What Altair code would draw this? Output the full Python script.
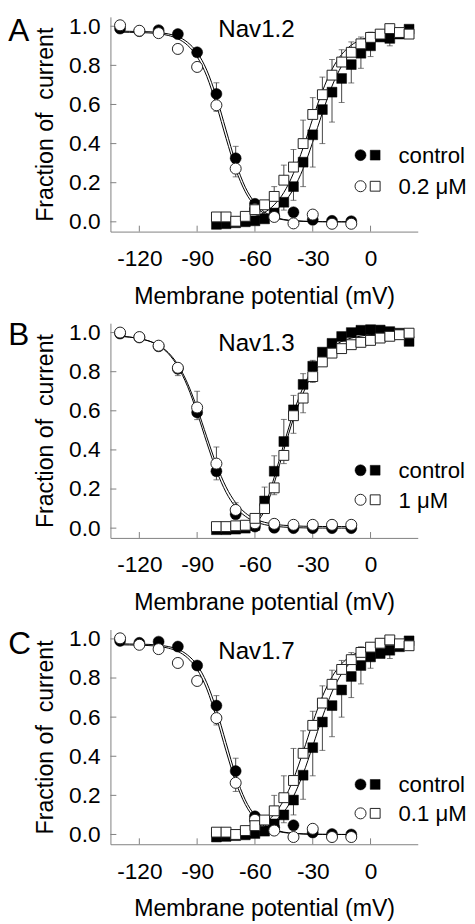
import altair as alt
import pandas as pd

FONT = "Liberation Sans"

# ---------------- shared axis values ----------------
V_INACT = [-130, -120, -110, -100, -90, -80, -70, -60, -50, -40, -30, -20, -10]
V_ACT = [-80, -75, -70, -65, -60, -55, -50, -45, -40, -35, -30, -25, -20, -15,
         -10, -5, 0, 5, 10, 15, 20]
V_FIT_INACT = [-130, -125, -120, -115, -110, -105, -100, -95, -90, -85, -80, -75,
               -70, -65, -60, -55, -50, -45, -40, -35, -30, -25, -20, -15, -10]
V_FIT_ACT = V_ACT
X_TICKS = [-120, -90, -60, -30, 0]
Y_TICKS = [0.0, 0.2, 0.4, 0.6, 0.8, 1.0]
N = None

# ---------------- Panel A : Nav1.2 ----------------
A_LETTER, A_TITLE, A_DRUG = "A", "Nav1.2", "0.2 \u03bcM"
A_INACT_CTRL = [0.988, 0.975, 0.98, 0.96, 0.867, 0.654, 0.325, 0.092, 0.03, 0.049, 0.01, 0.005, 0.003]
A_INACT_DRUG = [1.005, 0.977, 0.965, 0.884, 0.792, 0.596, 0.272, 0.065, 0.025, -0.008, 0.037, -0.01, -0.01]
A_ACT_CTRL = [-0.013, -0.01, -0.005, 0.0, 0.005, 0.015, 0.045, 0.1, 0.18, 0.305, 0.445, 0.574,
              0.663, 0.733, 0.804, 0.862, 0.9, 0.945, 0.938, 0.96, 0.985]
A_ACT_DRUG = [0.025, 0.025, 0.003, 0.028, 0.062, 0.087, 0.13, 0.213, 0.28, 0.4, 0.549, 0.65,
              0.75, 0.817, 0.867, 0.91, 0.943, 0.96, 0.988, 0.968, 0.96]
A_INACT_CTRL_ERR = [N, N, N, N, N, 0.711, 0.386, N, N, N, N, N, N]
A_INACT_DRUG_ERR = [N, N, N, N, N, 0.565, 0.23, N, N, N, N, N, N]
A_ACT_CTRL_ERR = [N, N, N, N, N, N, N, 0.06, 0.11, 0.18, 0.28, 0.40, 0.51, 0.61, 0.71, 0.785,
                  0.845, N, 0.9, N, N]
A_ACT_DRUG_ERR = [N, N, N, N, N, N, 0.18, 0.29, 0.37, 0.52, 0.635, 0.74, 0.83, 0.88, 0.92,
                  0.945, 0.97, 0.98, N, N, N]
A_FIT_INACT_CTRL = [0.975, 0.974, 0.973, 0.972, 0.968, 0.961, 0.947, 0.918, 0.866, 0.776, 0.639,
                    0.47, 0.304, 0.177, 0.097, 0.05, 0.025, 0.012, 0.006, 0.003, 0.0015, 0.0007,
                    0.0003, 0.0001, 0.0]
A_FIT_INACT_DRUG = [0.97, 0.969, 0.968, 0.966, 0.962, 0.953, 0.936, 0.903, 0.844, 0.744, 0.597,
                    0.427, 0.269, 0.153, 0.081, 0.042, 0.021, 0.01, 0.005, 0.0025, 0.0012, 0.0006,
                    0.0003, 0.0001, 0.0]
A_FIT_ACT_CTRL = [0.0014, 0.0026, 0.0049, 0.0088, 0.0164, 0.03, 0.055, 0.097, 0.168, 0.271, 0.408,
                  0.557, 0.694, 0.797, 0.868, 0.91, 0.935, 0.949, 0.956, 0.96, 0.962]
A_FIT_ACT_DRUG = [0.0023, 0.0043, 0.0078, 0.0144, 0.027, 0.048, 0.087, 0.15, 0.248, 0.378, 0.528,
                  0.668, 0.78, 0.856, 0.903, 0.931, 0.947, 0.955, 0.96, 0.962, 0.963]

# ---------------- Panel B : Nav1.3 ----------------
B_LETTER, B_TITLE, B_DRUG = "B", "Nav1.3", "1 \u03bcM"
B_INACT_CTRL = [0.995, 0.975, 0.93, 0.815, 0.592, 0.291, 0.071, 0.008, 0.002, 0.0, 0.0, 0.0, 0.0]
B_INACT_DRUG = [1.0, 0.977, 0.933, 0.82, 0.617, 0.33, 0.093, 0.025, 0.022, 0.017, 0.017, 0.017, 0.017]
B_ACT_CTRL = [-0.008, -0.008, -0.005, 0.0, 0.014, 0.139, 0.291, 0.443, 0.605, 0.735, 0.828, 0.9,
              0.945, 0.98, 1.0, 1.012, 1.015, 1.013, 1.005, 0.997, 0.955]
B_ACT_DRUG = [0.008, 0.008, 0.012, 0.015, 0.05, 0.1, 0.206, 0.372, 0.575, 0.665, 0.775, 0.85,
              0.895, 0.918, 0.938, 0.95, 0.96, 0.972, 0.981, 0.989, 0.997]
B_INACT_CTRL_ERR = [N, N, N, N, 0.555, 0.247, N, N, N, N, N, N, N]
B_INACT_DRUG_ERR = [N, N, N, 0.78, 0.70, 0.415, 0.13, N, N, N, N, N, N]
B_ACT_CTRL_ERR = [N, N, N, N, N, 0.21, 0.37, 0.556, 0.679, 0.79, 0.858, N, N, N, N, N, N, N, N, N, N]
B_ACT_DRUG_ERR = [N, N, N, N, N, N, 0.171, 0.33, 0.485, 0.59, 0.745, N, N, N, N, N, N, N, N, N, N]
B_FIT_INACT_CTRL = [0.981, 0.977, 0.969, 0.957, 0.934, 0.893, 0.826, 0.725, 0.59, 0.437, 0.295,
                    0.183, 0.107, 0.061, 0.0335, 0.018, 0.0098, 0.0053, 0.0029, 0.0015, 0.0008,
                    0.0004, 0.0002, 0.0001, 0.0]
B_FIT_INACT_DRUG = [0.981, 0.977, 0.969, 0.957, 0.935, 0.898, 0.836, 0.741, 0.614, 0.467, 0.326,
                    0.211, 0.13, 0.078, 0.047, 0.03, 0.02, 0.0146, 0.0116, 0.0099, 0.009, 0.0085,
                    0.0082, 0.0081, 0.008]
B_FIT_ACT_CTRL = [-0.01, -0.008, -0.004, 0.005, 0.03, 0.11, 0.26, 0.43, 0.59, 0.72, 0.815, 0.88,
                  0.925, 0.955, 0.972, 0.982, 0.99, 0.994, 0.996, 0.997, 0.998]
B_FIT_ACT_DRUG = [-0.005, -0.003, 0.0, 0.008, 0.025, 0.09, 0.23, 0.4, 0.56, 0.69, 0.79, 0.855,
                  0.9, 0.93, 0.95, 0.96, 0.968, 0.972, 0.975, 0.977, 0.978]

# ---------------- Panel C : Nav1.7 ----------------
C_LETTER, C_TITLE, C_DRUG = "C", "Nav1.7", "0.1 \u03bcM"
C_INACT_CTRL = [0.99, 0.98, 0.986, 0.961, 0.864, 0.659, 0.324, 0.093, 0.035, 0.047, 0.01, 0.002, 0.0]
C_INACT_DRUG = [1.003, 0.97, 0.948, 0.877, 0.785, 0.595, 0.264, 0.075, 0.02, -0.013, 0.029, -0.013, -0.013]
C_ACT_CTRL = [-0.013, -0.01, -0.006, -0.002, 0.005, 0.017, 0.054, 0.1, 0.176, 0.303, 0.444, 0.575,
              0.659, 0.739, 0.808, 0.864, 0.908, 0.925, 0.942, 0.96, 0.99]
C_ACT_DRUG = [0.012, 0.012, 0.0, 0.02, 0.045, 0.074, 0.121, 0.188, 0.276, 0.415, 0.558, 0.672,
              0.768, 0.844, 0.894, 0.931, 0.958, 0.978, 0.995, 0.975, 0.965]
C_INACT_CTRL_ERR = [N, N, N, N, N, 0.71, 0.39, N, N, N, N, N, N]
C_INACT_DRUG_ERR = [N, N, N, N, N, 0.56, 0.22, N, N, N, N, N, N]
C_ACT_CTRL_ERR = [N, N, N, N, N, N, N, 0.06, 0.1, 0.18, 0.3, 0.43, 0.5, 0.6, 0.7, 0.77, 0.85,
                  N, 0.9, N, N]
C_ACT_DRUG_ERR = [N, N, N, N, N, N, 0.2, 0.3, 0.44, 0.53, 0.63, 0.76, 0.84, 0.89, 0.93, 0.96,
                  0.98, 0.99, N, N, N]
C_FIT_INACT_CTRL = A_FIT_INACT_CTRL
C_FIT_INACT_DRUG = A_FIT_INACT_DRUG
C_FIT_ACT_CTRL = [0.0016, 0.003, 0.0057, 0.0106, 0.0196, 0.036, 0.065, 0.115, 0.195, 0.31, 0.452,
                  0.6, 0.729, 0.822, 0.883, 0.92, 0.94, 0.951, 0.958, 0.961, 0.963]
C_FIT_ACT_DRUG = [0.0027, 0.005, 0.0094, 0.0174, 0.032, 0.058, 0.103, 0.176, 0.284, 0.422, 0.572,
                  0.705, 0.806, 0.873, 0.914, 0.937, 0.95, 0.957, 0.961, 0.963, 0.964]

# ---------------- layout constants ----------------
W, H = 312, 218
XDOM = [-135, 24.5]
YDOM = [-0.05, 1.048]
LEG_CIRCLE_X, LEG_SQUARE_X, LEG_TEXT_X = -5.2, 2.4, 14.5
LETTER_PX = -103.7
Y_TITLE = "Fraction of\u00a0 current"

x_axis = alt.Axis(values=X_TICKS, title="Membrane potential (mV)", grid=False, ticks=True,
                  tickSize=0, labelPadding=16.5, titlePadding=14, domainColor="#808080",
                  labelExpr="replace(datum.label, '\u2212', '-')",
                  labelFont=FONT, labelFontSize=23, labelColor="black", labelFlush=False,
                  titleFont=FONT, titleFontSize=23.5, titleFontWeight="normal", titleColor="black")
y_axis = alt.Axis(values=Y_TICKS, format=".1f", title=Y_TITLE, grid=False,
                  ticks=True, tickSize=0, labelPadding=10.5, titlePadding=11,
                  domainColor="#808080", labelFont=FONT, labelFontSize=23, labelColor="black",
                  labelFlush=False, titleFont=FONT, titleFontSize=23.5, titleFontWeight="normal",
                  titleColor="black")
X = alt.X("V:Q", scale=alt.Scale(domain=XDOM, nice=False, zero=False), axis=x_axis)
Y = alt.Y("val:Q", scale=alt.Scale(domain=YDOM, nice=False, zero=False), axis=y_axis)

FILLED_C = dict(shape="circle", filled=True, fill="black", stroke="black", strokeWidth=0.5, size=125, opacity=1)
FILLED_S = dict(shape="square", filled=True, fill="black", stroke="black", strokeWidth=0.5, size=100, opacity=1)
OPEN_C = dict(shape="circle", filled=True, fill="white", stroke="#222222", strokeWidth=1, size=125, opacity=1)
OPEN_S = dict(shape="square", filled=True, fill="white", stroke="#222222", strokeWidth=1, size=100, opacity=1)


def panel(letter, title, drug, ic, idr, ac, ad, ice, ide, ace, ade, fic, fid, fac, fad,
          letter_y, title_y, row1, row2):
    series = [("inact_ctrl", V_INACT, ic, ice), ("inact_drug", V_INACT, idr, ide),
              ("act_ctrl", V_ACT, ac, ace), ("act_drug", V_ACT, ad, ade)]
    pts, errs = [], []
    for name, vs, vals, ers in series:
        for v, y, e in zip(vs, vals, ers):
            pts.append({"V": v, "val": y, "series": name})
            if e is not None:
                errs.append({"V": v, "val": y, "err": e})
    pts = pd.DataFrame(pts)
    errs = pd.DataFrame(errs)
    fits = []
    for name, vs, vals in [("fic", V_FIT_INACT, fic), ("fid", V_FIT_INACT, fid),
                           ("fac", V_FIT_ACT, fac), ("fad", V_FIT_ACT, fad)]:
        for v, y in zip(vs, vals):
            fits.append({"V": v, "val": y, "curve": name})
    fits = pd.DataFrame(fits)

    lines = alt.Chart(fits).mark_line(color="black", strokeWidth=1, interpolate="monotone").encode(
        x=X, y=Y, detail="curve:N")
    xt = alt.Chart(pd.DataFrame({"V": X_TICKS})).mark_rule(color="#808080", strokeWidth=1).encode(
        x=X, y=alt.value(H), y2=alt.value(H - 6))
    yt = alt.Chart(pd.DataFrame({"val": Y_TICKS})).mark_rule(color="#808080", strokeWidth=1).encode(
        y=Y, x=alt.value(0), x2=alt.value(6))
    bars = alt.Chart(errs).mark_rule(color="#444444", strokeWidth=1).encode(
        x=X, y=Y, y2="err:Q")
    caps = alt.Chart(errs).transform_calculate(val="datum.err").mark_tick(
        orient="horizontal", size=6, thickness=1, color="#444444").encode(x=X, y=Y)

    def sym(name, style):
        return alt.Chart(pts).transform_filter(alt.datum.series == name).mark_point(**style).encode(x=X, y=Y)

    leg = pd.DataFrame({"V": [LEG_CIRCLE_X, LEG_SQUARE_X, LEG_CIRCLE_X, LEG_SQUARE_X],
                        "val": [row1, row1, row2, row2],
                        "kind": ["fc", "fs", "oc", "os"]})
    leg_layers = [alt.Chart(leg).transform_filter(alt.datum.kind == k).mark_point(**st).encode(x=X, y=Y)
                  for k, st in [("fc", FILLED_C), ("fs", FILLED_S), ("oc", OPEN_C), ("os", OPEN_S)]]
    leg_text = alt.Chart(pd.DataFrame({"V": [LEG_TEXT_X, LEG_TEXT_X], "val": [row1, row2],
                                       "label": ["control", drug]})).mark_text(
        align="left", baseline="middle", dy=1, font=FONT, fontSize=22.5, color="black").encode(
        x=X, y=Y, text="label:N")
    ttl = alt.Chart(pd.DataFrame({"V": [-59.2], "val": [title_y], "label": [title]})).mark_text(
        align="center", baseline="top", font=FONT, fontSize=24.5, color="black").encode(
        x=X, y=Y, text="label:N")
    let = alt.Chart(pd.DataFrame({"val": [letter_y], "label": [letter]})).mark_text(
        align="left", baseline="top", font=FONT, fontSize=32, color="black").encode(
        x=alt.value(LETTER_PX), y=Y, text="label:N")

    return alt.layer(lines, xt, yt, bars, caps,
                     sym("inact_ctrl", FILLED_C), sym("act_ctrl", FILLED_S),
                     sym("inact_drug", OPEN_C), sym("act_drug", OPEN_S),
                     *leg_layers, leg_text, ttl, let).properties(width=W, height=H)


pA = panel(A_LETTER, A_TITLE, A_DRUG, A_INACT_CTRL, A_INACT_DRUG, A_ACT_CTRL, A_ACT_DRUG,
           A_INACT_CTRL_ERR, A_INACT_DRUG_ERR, A_ACT_CTRL_ERR, A_ACT_DRUG_ERR,
           A_FIT_INACT_CTRL, A_FIT_INACT_DRUG, A_FIT_ACT_CTRL, A_FIT_ACT_DRUG,
           1.0485, 1.040, 0.341, 0.182)
pB = panel(B_LETTER, B_TITLE, B_DRUG, B_INACT_CTRL, B_INACT_DRUG, B_ACT_CTRL, B_ACT_DRUG,
           B_INACT_CTRL_ERR, B_INACT_DRUG_ERR, B_ACT_CTRL_ERR, B_ACT_DRUG_ERR,
           B_FIT_INACT_CTRL, B_FIT_INACT_DRUG, B_FIT_ACT_CTRL, B_FIT_ACT_DRUG,
           1.062, 0.999, 0.296, 0.145)
pC = panel(C_LETTER, C_TITLE, C_DRUG, C_INACT_CTRL, C_INACT_DRUG, C_ACT_CTRL, C_ACT_DRUG,
           C_INACT_CTRL_ERR, C_INACT_DRUG_ERR, C_ACT_CTRL_ERR, C_ACT_DRUG_ERR,
           C_FIT_INACT_CTRL, C_FIT_INACT_DRUG, C_FIT_ACT_CTRL, C_FIT_ACT_DRUG,
           1.047, 0.993, 0.256, 0.108)

chart = alt.vconcat(pA, pB, pC, spacing=93, bounds="flush").properties(
    padding=0, background="white").configure_view(stroke=None)

chart.save("out.html", embed_options={"renderer": "svg", "actions": False})
